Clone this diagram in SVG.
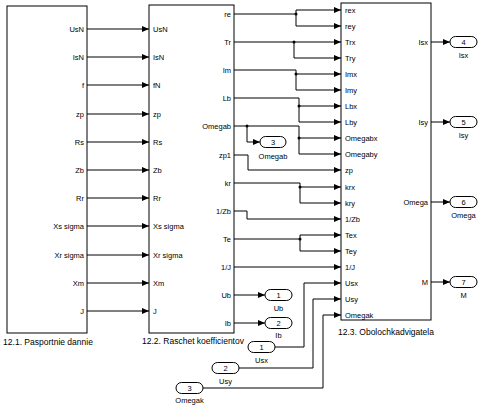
<svg xmlns="http://www.w3.org/2000/svg" width="480" height="406" viewBox="0 0 480 406">
<defs>
<marker id="ah" markerUnits="userSpaceOnUse" markerWidth="7" markerHeight="6" refX="7" refY="3" orient="auto">
<path d="M0,0 L7,3 L0,6 z" fill="#000"/>
</marker>
<style>
.blk{fill:#fff;stroke:#000;stroke-width:1}
.c{fill:none;stroke:#000;stroke-width:1;marker-end:url(#ah)}
.b{fill:none;stroke:#000;stroke-width:1}
.d{fill:#000}
.t{font-family:"Liberation Sans",Arial,sans-serif;font-size:7.5px;fill:#000}
.l{font-family:"Liberation Sans",Arial,sans-serif;font-size:8.5px;fill:#000;text-anchor:middle}
.r{text-anchor:end}
.m{text-anchor:middle}
.ov{fill:#fff;stroke:#000;stroke-width:1}
</style>
</defs>
<rect width="480" height="406" fill="#fff"/>

<g id="connectors">
<path class="c" d="M87,29 H149"/>
<path class="c" d="M87,57 H149"/>
<path class="c" d="M87,85 H149"/>
<path class="c" d="M87,114 H149"/>
<path class="c" d="M87,142 H149"/>
<path class="c" d="M87,170 H149"/>
<path class="c" d="M87,198 H149"/>
<path class="c" d="M87,226 H149"/>
<path class="c" d="M87,255 H149"/>
<path class="c" d="M87,283 H149"/>
<path class="c" d="M87,311 H149"/>

<path class="c" d="M234,14 H296 V10 H341"/>
<path class="c" d="M296,14 V26 H341"/>
<circle class="d" cx="296" cy="14" r="1.5"/>
<path class="c" d="M234,42 H341"/>
<path class="c" d="M294,42 V58 H341"/>
<circle class="d" cx="294" cy="42" r="1.5"/>
<path class="c" d="M234,70 H296 V74 H341"/>
<path class="c" d="M296,74 V90 H341"/>
<circle class="d" cx="296" cy="74" r="1.5"/>
<path class="c" d="M234,98 H299 V106 H341"/>
<path class="c" d="M299,106 V122 H341"/>
<circle class="d" cx="299" cy="106" r="1.5"/>
<path class="c" d="M234,126 H299 V138 H341"/>
<path class="c" d="M299,138 V154 H341"/>
<circle class="d" cx="299" cy="138" r="1.5"/>
<path class="c" d="M247,126 V142 H260"/>
<circle class="d" cx="247" cy="126" r="1.5"/>
<path class="c" d="M234,155 H248 V170 H341"/>
<path class="c" d="M234,183 H300 V187 H341"/>
<path class="c" d="M300,187 V203 H341"/>
<circle class="d" cx="300" cy="187" r="1.5"/>
<path class="c" d="M234,211 H247 V219 H341"/>
<path class="c" d="M234,239 H300 V235 H341"/>
<path class="c" d="M300,239 V251 H341"/>
<circle class="d" cx="300" cy="239" r="1.5"/>
<path class="c" d="M234,267 H341"/>
<path class="c" d="M234,295 H265"/>
<path class="c" d="M234,323 H265"/>
<path class="c" d="M275,347 H304 V283 H341"/>
<path class="c" d="M239,368 H313 V299 H341"/>
<path class="c" d="M203,388 H323 V315 H341"/>

<path class="c" d="M431,42 H450"/>
<path class="c" d="M431,122 H450"/>
<path class="c" d="M431,202 H450"/>
<path class="c" d="M431,282 H450"/>
</g>

<g id="block1">
<rect class="blk" x="7" y="6" width="80" height="327"/>
<g class="t r">
<text x="84" y="31.7">UsN</text>
<text x="84" y="59.7">IsN</text>
<text x="84" y="87.7">f</text>
<text x="84" y="116.7">zp</text>
<text x="84" y="144.7">Rs</text>
<text x="84" y="172.7">Zb</text>
<text x="84" y="200.7">Rr</text>
<text x="84" y="228.7">Xs sigma</text>
<text x="84" y="257.7">Xr sigma</text>
<text x="84" y="285.7">Xm</text>
<text x="84" y="313.7">J</text>
</g>
<text class="l" x="48" y="344.5">12.1. Pasportnie dannie</text>
</g>

<g id="block2">
<rect class="blk" x="149" y="5" width="85" height="328"/>
<g class="t">
<text x="153" y="31.7">UsN</text>
<text x="153" y="59.7">IsN</text>
<text x="153" y="87.7">fN</text>
<text x="153" y="116.7">zp</text>
<text x="153" y="144.7">Rs</text>
<text x="153" y="172.7">Zb</text>
<text x="153" y="200.7">Rr</text>
<text x="153" y="228.7">Xs sigma</text>
<text x="153" y="257.7">Xr sigma</text>
<text x="153" y="285.7">Xm</text>
<text x="153" y="313.7">J</text>
</g>
<g class="t r">
<text x="231" y="16.7">re</text>
<text x="231" y="44.7">Tr</text>
<text x="231" y="72.7">Im</text>
<text x="231" y="100.7">Lb</text>
<text x="231" y="128.7">Omegab</text>
<text x="231" y="157.7">zp1</text>
<text x="231" y="185.7">kr</text>
<text x="231" y="213.7">1/Zb</text>
<text x="231" y="241.7">Te</text>
<text x="231" y="269.7">1/J</text>
<text x="231" y="297.7">Ub</text>
<text x="231" y="325.7">Ib</text>
</g>
<text class="l" x="193" y="343.5">12.2. Raschet koefficientov</text>
</g>

<g id="block3">
<rect class="blk" x="341" y="3" width="90" height="317"/>
<g class="t">
<text x="345" y="12.7">rex</text>
<text x="345" y="28.7">rey</text>
<text x="345" y="44.7">Trx</text>
<text x="345" y="60.7">Try</text>
<text x="345" y="76.7">Imx</text>
<text x="345" y="92.7">Imy</text>
<text x="345" y="108.7">Lbx</text>
<text x="345" y="124.7">Lby</text>
<text x="345" y="140.7">Omegabx</text>
<text x="345" y="156.7">Omegaby</text>
<text x="345" y="172.7">zp</text>
<text x="345" y="189.7">krx</text>
<text x="345" y="205.7">kry</text>
<text x="345" y="221.7">1/Zb</text>
<text x="345" y="237.7">Tex</text>
<text x="345" y="253.7">Tey</text>
<text x="345" y="269.7">1/J</text>
<text x="345" y="285.7">Usx</text>
<text x="345" y="301.7">Usy</text>
<text x="345" y="317.7">Omegak</text>
</g>
<g class="t r">
<text x="428" y="44.7">Isx</text>
<text x="428" y="124.7">Isy</text>
<text x="428" y="204.7">Omega</text>
<text x="428" y="284.7">M</text>
</g>
<text class="l" x="386" y="335">12.3. Obolochkadvigatela</text>
</g>

<g id="out_Omegab">
<rect class="ov" x="260" y="136.5" width="26" height="11" rx="5.5"/>
<text class="t m" x="273" y="144.7">3</text>
<text class="t m" x="273" y="158.7">Omegab</text>
</g>
<g id="out_Ub">
<rect class="ov" x="265" y="289.5" width="27" height="11" rx="5.5"/>
<text class="t m" x="278.5" y="297.7">1</text>
<text class="t m" x="278.5" y="310.7">Ub</text>
</g>
<g id="out_Ib">
<rect class="ov" x="265" y="317.5" width="27" height="11" rx="5.5"/>
<text class="t m" x="278.5" y="325.7">2</text>
<text class="t m" x="278.5" y="337.7">Ib</text>
</g>
<g id="in_Usx">
<rect class="ov" x="248" y="341.5" width="27" height="11" rx="5.5"/>
<text class="t m" x="261.5" y="349.7">1</text>
<text class="t m" x="261.5" y="362.7">Usx</text>
</g>
<g id="in_Usy">
<rect class="ov" x="212" y="362.5" width="27" height="11" rx="5.5"/>
<text class="t m" x="225.5" y="370.7">2</text>
<text class="t m" x="225.5" y="383.7">Usy</text>
</g>
<g id="in_Omegak">
<rect class="ov" x="176" y="382.5" width="27" height="11" rx="5.5"/>
<text class="t m" x="189.5" y="390.7">3</text>
<text class="t m" x="189.5" y="402.7">Omegak</text>
</g>
<g id="out_Isx">
<rect class="ov" x="450" y="36.5" width="27" height="11" rx="5.5"/>
<text class="t m" x="463.5" y="44.7">4</text>
<text class="t m" x="463.5" y="57.7">Isx</text>
</g>
<g id="out_Isy">
<rect class="ov" x="450" y="116.5" width="27" height="11" rx="5.5"/>
<text class="t m" x="463.5" y="124.7">5</text>
<text class="t m" x="463.5" y="137.7">Isy</text>
</g>
<g id="out_Omega">
<rect class="ov" x="450" y="196.5" width="27" height="11" rx="5.5"/>
<text class="t m" x="463.5" y="204.7">6</text>
<text class="t m" x="463.5" y="217.7">Omega</text>
</g>
<g id="out_M">
<rect class="ov" x="450" y="276.5" width="27" height="11" rx="5.5"/>
<text class="t m" x="463.5" y="284.7">7</text>
<text class="t m" x="463.5" y="297.7">M</text>
</g>
</svg>
